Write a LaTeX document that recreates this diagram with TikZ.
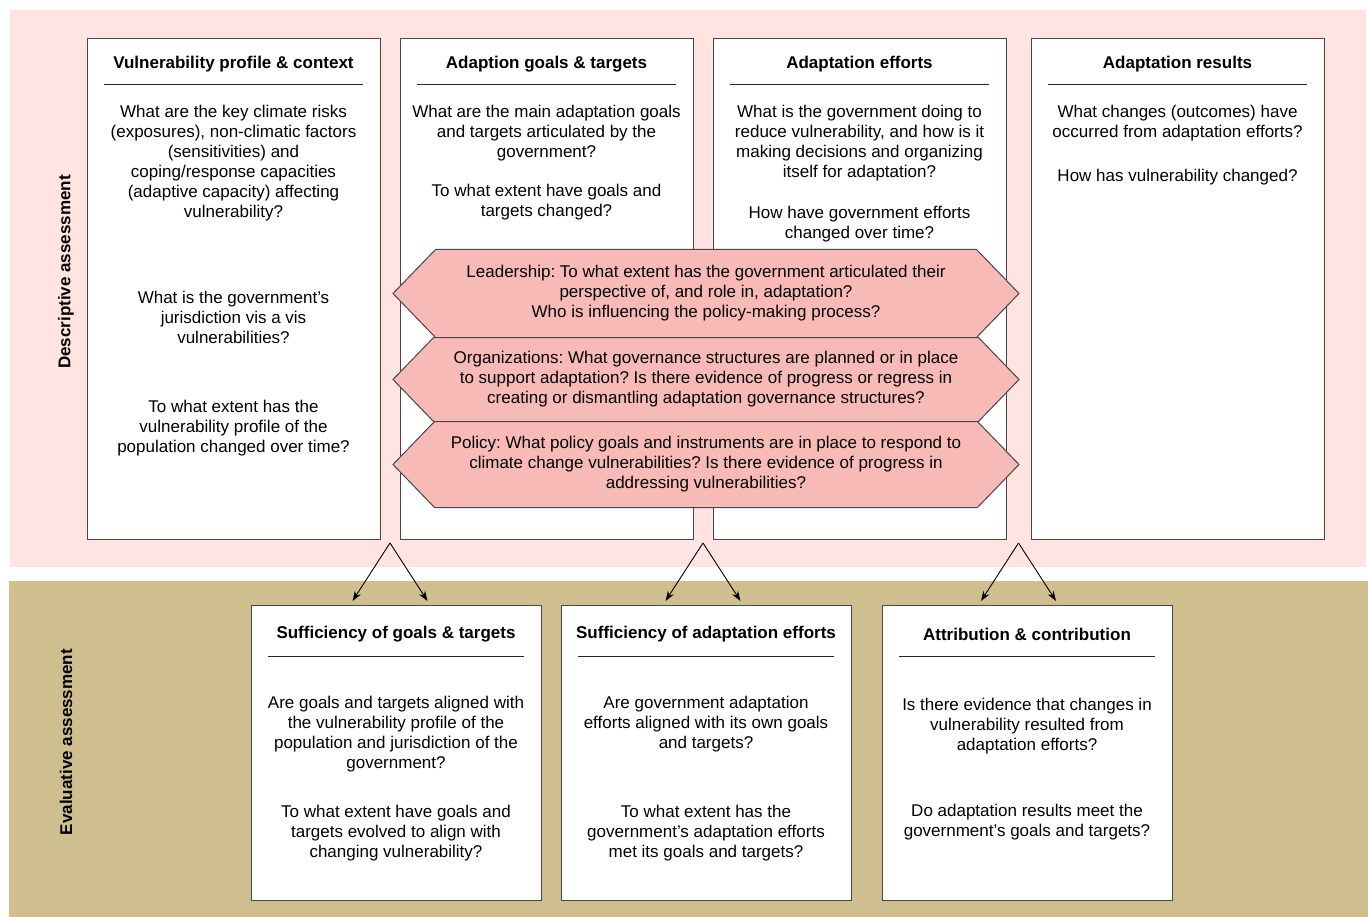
\documentclass[tikz,border=0pt]{standalone}
\usepackage{fontspec}
\setmainfont{Liberation Sans}
\frenchspacing
\usetikzlibrary{arrows.meta, positioning, shapes.symbols, calc}
\definecolor{descpink}{RGB}{255, 228, 225}
\definecolor{evaltan}{RGB}{207, 191, 142}
\definecolor{hexpink}{RGB}{248, 186, 182}
\definecolor{boxgray}{RGB}{70, 70, 70}

\begin{document}
\begin{tikzpicture}[x=1pt, y=-1pt,
    col/.style={draw=boxgray, fill=white, line width=1pt, minimum width=293pt,
                minimum height=500pt, inner sep=0pt, outer sep=0pt},
    evalbox/.style={col, minimum width=290pt, minimum height=295pt},
    head/.style={font=\fontsize{17}{20}\selectfont\bfseries, inner sep=0pt},
    body/.style={align=center, font=\fontsize{17}{20}\selectfont, inner sep=0pt, anchor=north},
    rule/.style={line width=0.9pt, black!85},
    hexa/.style={shape=signal, signal to=west and east, signal pointer angle=92,
                 draw=boxgray, fill=hexpink, line width=1pt, minimum width=626pt,
                 align=center, font=\fontsize{17}{20}\selectfont, inner sep=0pt, outer sep=0pt},
    side/.style={rotate=90, font=\fontsize{17}{20}\selectfont\bfseries},
    arr/.style={-{Stealth[length=10pt, width=7pt]}, line width=0.9pt}
  ]
    \useasboundingbox (0,0) rectangle (1368,917);
    % the two bands
    \fill[descpink] (10,10) rectangle (1366,567);
    \fill[evaltan] (9,581) rectangle (1368,917);
    \node[side] (desc) at (66,272) {Descriptive assessment};
    \node[side] (eval) at (66,742) {Evaluative assessment};

    % descriptive columns
    \node[col] (vuln) at (233.5,289) {};
    \node[col, right=20pt of vuln] (goals) {};
    \node[col, right=20pt of goals] (effort) {};
    \node[col, right=25pt of effort] (result) {};

    \node[head] at ([yshift=-25pt]vuln.north) {Vulnerability profile \& context};
    \node[head] at ([yshift=-25pt]goals.north) {Adaption goals \& targets};
    \node[head] at ([yshift=-25pt]effort.north) {Adaptation efforts};
    \node[head] at ([yshift=-25pt]result.north) {Adaptation results};
    \draw[rule] ([xshift=17pt, yshift=-45pt]vuln.north west) -- ([xshift=-17pt, yshift=-45pt]vuln.north east);
    \draw[rule] ([xshift=17pt, yshift=-45pt]goals.north west) -- ([xshift=-17pt, yshift=-45pt]goals.north east);
    \draw[rule] ([xshift=17pt, yshift=-45pt]effort.north west) -- ([xshift=-17pt, yshift=-45pt]effort.north east);
    \draw[rule] ([xshift=17pt, yshift=-45pt]result.north west) -- ([xshift=-17pt, yshift=-45pt]result.north east);

    \node[body] (vulnq) at ([yshift=-66pt]vuln.north)
      {What are the key climate risks\\(exposures), non-climatic factors\\(sensitivities) and\\
       coping/response capacities\\(adaptive capacity) affecting\\vulnerability?\\[66pt]
       What is the government's\\jurisdiction vis a vis\\vulnerabilities?\\[49pt]
       To what extent has the\\vulnerability profile of the\\population changed over time?};
    \node[body] (goalsq) at ([yshift=-66pt]goals.north)
      {What are the main adaptation goals\\and targets articulated by the\\government?\\[19pt]
       To what extent have goals and\\targets changed?};
    \node[body] (effortq) at ([yshift=-66pt]effort.north)
      {What is the government doing to\\reduce vulnerability, and how is it\\
       making decisions and organizing\\itself for adaptation?\\[21pt]
       How have government efforts\\changed over time?};
    \node[body] (resultq) at ([yshift=-66pt]result.north)
      {What changes (outcomes) have\\occurred from adaptation efforts?\\[24pt]
       How has vulnerability changed?};

    % governance hexagons
    \node[hexa, minimum height=88pt] (lead) at (706,293.5)
      {Leadership: To what extent has the government articulated their\\
       perspective of, and role in, adaptation?\\Who is influencing the policy-making process?};
    \node[hexa, minimum height=84pt, below=0pt of lead] (orgs)
      {Organizations: What governance structures are planned or in place\\
       to support adaptation? Is there evidence of progress or regress in\\
       creating or dismantling adaptation governance structures?};
    \node[hexa, minimum height=86pt, below=0pt of orgs] (policy)
      {Policy: What policy goals and instruments are in place to respond to\\
       climate change vulnerabilities? Is there evidence of progress in\\
       addressing vulnerabilities?};

    % evaluative boxes
    \node[evalbox] (suffgoals) at (396,752.5) {};
    \node[evalbox, right=20pt of suffgoals] (suffeffort) {};
    \node[evalbox, right=31pt of suffeffort] (attrib) {};

    \node[head] at ([yshift=-29pt]suffgoals.north) {Sufficiency of goals \& targets};
    \node[head] at ([yshift=-29pt]suffeffort.north) {Sufficiency of adaptation efforts};
    \node[head] at ([yshift=-29pt]attrib.north) {Attribution \& contribution};
    \draw[rule] ([xshift=17pt, yshift=-51pt]suffgoals.north west) -- ([xshift=-17pt, yshift=-51pt]suffgoals.north east);
    \draw[rule] ([xshift=17pt, yshift=-51pt]suffeffort.north west) -- ([xshift=-17pt, yshift=-51pt]suffeffort.north east);
    \draw[rule] ([xshift=17pt, yshift=-51pt]attrib.north west) -- ([xshift=-17pt, yshift=-51pt]attrib.north east);

    \node[body] (suffgoalsq) at ([yshift=-91pt]suffgoals.north)
      {Are goals and targets aligned with\\the vulnerability profile of the\\
       population and jurisdiction of the\\government?\\[29pt]
       To what extent have goals and\\targets evolved to align with\\changing vulnerability?};
    \node[body] (suffeffortq) at ([yshift=-91pt]suffeffort.north)
      {Are government adaptation\\efforts aligned with its own goals\\and targets?\\[49pt]
       To what extent has the\\government's adaptation efforts\\met its goals and targets?};
    \node[body] (attribq) at ([yshift=-93pt]attrib.north)
      {Is there evidence that changes in\\vulnerability resulted from\\adaptation efforts?\\[46pt]
       Do adaptation results meet the\\government's goals and targets?};

    % forks from the descriptive gaps down to the evaluative boxes
    \coordinate (fork1) at ($(vuln.south east)!0.5!(goals.south west)+(0,4)$);
    \coordinate (fork2) at ($(goals.south east)!0.5!(effort.south west)+(0,4)$);
    \coordinate (fork3) at ($(effort.south east)!0.5!(result.south west)+(0,4)$);
    \coordinate (fork1l) at ($(fork1)+(-37.5,58)$);
    \coordinate (fork1r) at ($(fork1)+(37.5,58)$);
    \coordinate (fork2l) at ($(fork2)+(-37.5,58)$);
    \coordinate (fork2r) at ($(fork2)+(37.5,58)$);
    \coordinate (fork3l) at ($(fork3)+(-37.5,58)$);
    \coordinate (fork3r) at ($(fork3)+(37.5,58)$);
    \draw[arr] (fork1) -- (fork1l);
    \draw[arr] (fork1) -- (fork1r);
    \draw[arr] (fork2) -- (fork2l);
    \draw[arr] (fork2) -- (fork2r);
    \draw[arr] (fork3) -- (fork3l);
    \draw[arr] (fork3) -- (fork3r);
  \end{tikzpicture}
\end{document}
